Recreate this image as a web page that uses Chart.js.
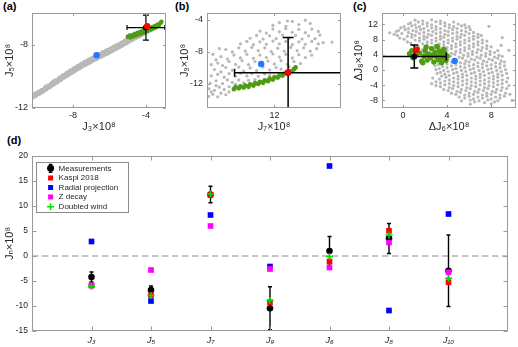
<!DOCTYPE html>
<html>
<head>
<meta charset="utf-8">
<script src="https://cdn.jsdelivr.net/npm/chart.js@4.4.1/dist/chart.umd.min.js"></script>
<style>
  html, body { margin: 0; padding: 0; background: #fff; }
  body { width: 518px; height: 347px; position: relative; overflow: hidden; font-family: 'Liberation Sans', Arial, sans-serif; }
  canvas { position: absolute; }
  .lbl { position: absolute; font-weight: bold; font-size: 11px; line-height: 11px; color: #000; }
</style>
</head>
<body>
<div class="lbl" style="left:3px;top:1px">(a)</div>
<div class="lbl" style="left:175px;top:1px">(b)</div>
<div class="lbl" style="left:353px;top:1px">(c)</div>
<div class="lbl" style="left:7px;top:135px">(d)</div>
<canvas id="ca" width="170" height="136" style="left:0;top:0"></canvas>
<canvas id="cb" width="170" height="136" style="left:175px;top:0"></canvas>
<canvas id="cc" width="169" height="136" style="left:349px;top:0"></canvas>
<canvas id="cd" width="518" height="207" style="left:0;top:140px"></canvas>
<script>
// ---- panel (a): J5 vs J3 ----
const aCloud = [
  [-10.25,-11.40],[-10.22,-11.25],[-10.15,-11.3],[-10.15,-11.15],
  [-10.05,-11.28],[-10.02,-11.12],[-10.08,-11.05],[-9.95,-11.18],[-9.95,-11.0],
  [-9.85,-11.15],[-9.88,-10.95],[-9.82,-11.02],[-9.75,-11.05],[-9.75,-10.85],
  [-9.65,-11.00],[-9.62,-10.80],[-9.68,-10.90],[-9.55,-10.9],[-9.55,-10.7],
  [-9.45,-10.85],[-9.48,-10.62],[-9.42,-10.72],[-9.35,-10.75],[-9.35,-10.55],
  [-9.25,-10.70],[-9.22,-10.45],[-9.28,-10.56],[-9.15,-10.6],[-9.15,-10.4],
  [-9.05,-10.55],[-9.08,-10.30],[-9.02,-10.42],[-8.95,-10.45],[-8.95,-10.22],
  [-8.85,-10.40],[-8.82,-10.15],[-8.88,-10.25],[-8.75,-10.3],[-8.75,-10.06],
  [-8.65,-10.24],[-8.62,-9.98],[-8.68,-10.10],[-8.55,-10.14],[-8.55,-9.9],
  [-8.45,-10.08],[-8.42,-9.84],[-8.48,-9.95],[-8.35,-10.0],[-8.35,-9.75],
  [-8.25,-9.94],[-8.22,-9.68],[-8.28,-9.80],[-8.15,-9.86],[-8.15,-9.6],
  [-8.05,-9.80],[-8.02,-9.54],[-8.08,-9.66],[-7.95,-9.72],[-7.95,-9.46],
  [-7.85,-9.66],[-7.82,-9.40],[-7.88,-9.52],[-7.75,-9.58],[-7.75,-9.32],
  [-7.65,-9.52],[-7.62,-9.26],[-7.68,-9.40],[-7.55,-9.44],[-7.55,-9.18],
  [-7.45,-9.38],[-7.42,-9.12],[-7.48,-9.25],[-7.35,-9.32],[-7.35,-9.05],
  [-7.25,-9.26],[-7.22,-9.00],[-7.28,-9.12],[-7.15,-9.2],[-7.15,-8.93],
  [-7.05,-9.14],[-7.02,-8.88],[-7.08,-9.00],[-6.95,-9.07],[-6.95,-8.81],
  [-6.85,-9.00],[-6.82,-8.75],[-6.88,-8.88],[-6.75,-8.95],[-6.75,-8.68],
  [-6.65,-8.90],[-6.62,-8.62],[-6.68,-8.76],[-6.55,-8.83],[-6.55,-8.56],
  [-6.45,-8.78],[-6.42,-8.50],[-6.48,-8.64],[-6.35,-8.71],[-6.35,-8.44],
  [-6.25,-8.66],[-6.22,-8.38],[-6.28,-8.52],[-6.15,-8.6],[-6.15,-8.33],
  [-6.05,-8.55],[-6.02,-8.27],[-6.08,-8.40],[-5.95,-8.48],[-5.95,-8.21],
  [-5.85,-8.43],[-5.82,-8.15],[-5.88,-8.28],[-5.75,-8.36],[-5.75,-8.09],
  [-5.65,-8.30],[-5.62,-8.03],[-5.68,-8.17],[-5.55,-8.24],[-5.55,-7.97],
  [-5.45,-8.18],[-5.42,-7.92],[-5.48,-8.05],[-5.35,-8.12],[-5.35,-7.85],
  [-5.25,-8.06],[-5.22,-7.78],[-5.28,-7.92],[-5.15,-7.98],[-5.15,-7.71],
  [-5.05,-7.92],[-5.02,-7.64],[-5.08,-7.78],[-4.95,-7.84],[-4.95,-7.57],
  [-4.85,-7.78],[-4.82,-7.50],[-4.88,-7.64],[-4.75,-7.72],[-4.75,-7.45],
  [-4.65,-7.66],[-4.62,-7.38],[-4.55,-7.6],[-4.45,-7.54],[-4.42,-7.26],[-4.35,-7.48],
  [-4.25,-7.42],[-4.22,-7.16],[-4.15,-7.36],[-4.05,-7.30],[-4.02,-7.06],[-3.95,-7.24],
  [-3.85,-7.18],[-3.82,-6.96],[-3.75,-7.12],[-3.65,-7.06],[-3.55,-7.0],[-3.45,-6.94]
];
const aGreen = [
  [-5.0,-7.5],[-4.9,-7.42],[-4.85,-7.55],[-4.75,-7.38],[-4.7,-7.48],[-4.6,-7.3],
  [-4.55,-7.42],[-4.45,-7.25],[-4.4,-7.35],[-4.3,-7.18],[-4.25,-7.3],[-4.15,-7.1],
  [-4.1,-7.22],[-3.95,-7.02],[-3.9,-7.12],[-3.8,-6.95],[-3.75,-7.05],[-3.65,-6.88],
  [-3.6,-6.98],[-3.5,-6.8],[-3.45,-6.9],[-3.35,-6.72],[-3.3,-6.8],[-3.2,-6.62],[-3.15,-6.55]
];
const aBlue = [-6.71, -8.67];
const aKaspi = [-3.93, -6.84];
const aMeas = [-4.0, -6.92];
const aErr = [1.04, 0.79];
const aXTicks = [-8, -4];
const aYTicks = [-12, -8];

// ---- panel (b): J9 vs J7 ----
const bCloud = [
  [9.97,-13.55],[10.1,-13.3],[10.25,-13.6],[10.35,-13.15],[10.5,-13.35],[10.05,-13.0],[10.6,-13.0],
  [9.98,-12.6],[10.15,-12.8],[10.3,-12.4],[10.45,-12.7],[10.6,-12.35],[10.2,-12.2],[10.8,-12.05],
  [10.02,-11.9],[10.2,-11.6],[10.4,-11.95],[10.55,-11.5],[10.7,-11.8],[10.9,-11.5],[11.05,-11.85],
  [11.2,-11.55],[11.4,-11.45],
  [10.05,-11.0],[10.25,-10.8],[10.45,-11.15],[10.6,-10.7],[10.8,-11.05],[10.95,-10.65],[11.15,-11.0],
  [11.3,-10.7],[11.5,-11.05],[11.7,-10.75],[11.85,-10.95],
  [10.15,-10.2],[10.35,-10.5],[10.5,-9.95],[10.7,-10.3],[10.9,-9.9],[11.05,-10.4],[11.25,-10.0],
  [11.45,-10.35],[11.65,-9.9],[11.85,-10.25],[12.05,-9.95],[12.2,-10.15],[12.45,-9.85],
  [10.25,-9.4],[10.4,-9.7],[10.6,-9.2],[10.8,-9.55],[11.0,-9.1],[11.2,-9.6],[11.4,-9.2],
  [11.6,-9.65],[11.8,-9.15],[12.0,-9.5],[12.2,-9.1],[12.4,-9.55],[12.6,-9.2],[12.8,-9.45],
  [10.35,-8.6],[10.55,-8.9],[10.75,-8.4],[10.95,-8.75],[11.15,-8.3],[11.35,-8.8],[11.55,-8.4],
  [11.75,-8.7],[11.95,-8.25],[12.15,-8.65],[12.35,-8.3],[12.55,-8.75],[12.75,-8.35],[12.95,-8.7],[13.15,-8.4],
  [10.5,-7.7],[10.7,-8.0],[10.9,-7.5],[11.1,-7.9],[11.3,-7.45],[11.5,-7.85],[11.7,-7.5],[11.9,-7.95],
  [12.1,-7.55],[12.3,-7.9],[12.5,-7.45],[12.7,-7.85],[12.9,-7.5],[13.1,-7.9],[13.3,-7.6],
  [10.95,-7.0],[11.15,-6.7],[11.35,-7.1],[11.55,-6.75],[11.75,-7.05],[11.95,-6.65],[12.15,-7.0],
  [12.35,-6.7],[12.55,-7.1],[12.75,-6.75],[12.95,-7.05],[13.15,-6.7],[13.35,-7.0],[13.5,-6.85],[13.77,-6.78],
  [11.25,-6.3],[11.45,-5.95],[11.65,-6.4],[11.85,-6.0],[12.05,-6.35],[12.25,-5.9],[12.45,-6.3],
  [12.65,-5.95],[12.85,-6.4],[13.05,-6.0],[13.25,-6.35],[13.4,-5.9],
  [11.55,-5.4],[11.75,-5.65],[11.95,-5.15],[12.15,-5.5],[12.35,-5.1],[12.55,-5.55],[12.75,-5.2],
  [12.95,-5.6],[13.15,-5.15],[13.35,-5.45],
  [11.95,-4.7],[12.15,-4.35],[12.35,-4.8],[12.55,-4.2],[12.75,-4.6],[12.95,-4.05],[13.1,-4.45],[12.4,-4.15],
  [10.1,-8.3],[10.3,-7.6],[10.2,-9.0],[10.05,-9.6]
];
const bGreen = [
  [10.75,-12.65],[10.8,-12.4],[10.9,-12.55],[10.95,-12.3],[11.05,-12.45],[11.1,-12.2],[11.2,-12.35],
  [11.25,-12.05],[11.35,-12.2],[11.4,-11.9],[11.5,-12.0],[11.55,-11.75],[11.65,-11.85],[11.7,-11.55],
  [11.8,-11.65],[11.85,-11.35],[11.95,-11.45],[12.0,-11.15],[12.1,-11.2],[12.15,-10.95],[12.25,-10.95],
  [12.3,-10.7],[12.4,-10.7],[12.45,-10.45],[12.55,-10.4],[12.6,-10.15],[12.65,-9.95]
];
const bBlue = [11.59, -9.51];
const bKaspi = [12.41, -10.57];
const bMeas = [12.42, -10.6];
const bErr = [1.65, 4.4];
const bXTicks = [12];
const bYTicks = [-12, -8, -4];

// ---- panel (c): dJ8 vs dJ6 ----
const cCloud = [
  [1.1,13.1],[1.8,12.9],[2.6,13.2],[3.4,12.9],
  [0.7,12.4],[1.4,12.6],[2.2,12.4],[3.0,12.7],[3.8,12.4],[4.6,12.6],
  [0.5,12.1],[1.1,11.9],[1.8,12.1],[2.6,11.9],[3.4,12.2],[4.2,11.9],[5.0,12.1],[5.6,11.9],
  [0.1,11.4],[0.8,11.6],[1.5,11.4],[2.2,11.6],[3.0,11.4],[3.8,11.6],[4.6,11.4],[5.3,11.6],[6.0,11.4],
  [-0.2,11.1],[0.5,10.9],[1.2,11.1],[1.9,10.9],[2.6,11.1],[3.4,10.9],[4.2,11.1],[4.9,10.9],[5.7,11.1],
  [-0.4,10.4],[0.2,10.6],[0.9,10.4],[1.6,10.6],[2.3,10.4],[3.0,10.6],[3.8,10.4],[4.5,10.6],[5.3,10.4],[6.1,10.6],
  [-0.6,10.1],[0.5,9.9],[1.2,10.1],[1.9,9.9],[2.7,10.1],[3.4,9.9],[4.1,10.1],[4.9,9.9],[5.7,10.1],[6.4,9.9],
  [-0.8,9.4],[-0.1,9.6],[0.8,9.4],[1.5,9.6],[2.3,9.4],[3.0,9.6],[3.8,9.4],[4.5,9.6],[5.3,9.4],[6.0,9.6],[6.8,9.4],
  [-0.5,9.1],[0.4,8.9],[1.1,9.1],[1.9,8.9],[2.6,9.1],[3.4,8.9],[4.1,9.1],[4.9,8.9],[5.6,9.1],[6.4,8.9],[7.1,9.1],
  [-0.3,8.4],[0.8,8.6],[1.5,8.4],[2.2,8.6],[3.0,8.4],[3.7,8.6],[4.5,8.4],[5.2,8.6],[6.0,8.4],[6.8,8.6],
  [0.1,8.1],[1.1,7.9],[1.9,8.1],[2.6,7.9],[3.4,8.1],[4.1,7.9],[4.9,8.1],[5.6,7.9],[6.4,8.1],[7.2,7.9],
  [0.4,7.4],[1.5,7.6],[2.2,7.4],[3.0,7.6],[3.7,7.4],[4.5,7.6],[5.2,7.4],[6.0,7.6],[6.8,7.4],[7.6,7.6],
  [0.7,7.1],[1.8,6.9],[2.6,7.1],[3.3,6.9],[4.1,7.1],[4.8,6.9],[5.6,7.1],[6.4,6.9],[7.2,7.1],
  [1.0,6.4],[2.2,6.6],[2.9,6.4],[3.7,6.6],[4.4,6.4],[5.2,6.6],[6.0,6.4],[6.8,6.6],[7.6,6.4],[8.9,6.5],
  [1.4,6.1],[2.5,5.9],[3.3,6.1],[4.0,5.9],[4.8,6.1],[5.6,5.9],[6.4,6.1],[7.2,5.9],[8.0,6.1],
  [1.8,5.4],[2.9,5.6],[3.6,5.4],[4.4,5.6],[5.2,5.4],[6.0,5.6],[6.8,5.4],[7.6,5.6],
  [2.1,5.1],[3.2,4.9],[4.0,5.1],[4.8,4.9],[5.6,5.1],[6.3,4.9],[7.1,5.1],[7.9,4.9],[8.6,5.1],
  [2.5,4.4],[3.6,4.6],[4.4,4.4],[5.2,4.6],[5.9,4.4],[6.7,4.6],[7.5,4.4],[8.3,4.6],
  [2.8,4.1],[3.9,3.9],[4.7,4.1],[5.5,3.9],[6.3,4.1],[7.1,3.9],[7.9,4.1],[8.7,3.9],
  [3.2,3.4],[4.3,3.6],[5.1,3.4],[5.9,3.6],[6.7,3.4],[7.5,3.6],[8.3,3.4],[9.0,3.6],
  [3.5,3.1],[4.1,2.9],[5.4,3.1],[6.2,2.9],[7.0,3.1],[7.8,2.9],[8.6,3.1],
  [3.1,2.4],[3.9,2.6],[5.7,2.4],[6.5,2.6],[7.3,2.4],[8.1,2.6],[8.9,2.4],
  [2.8,2.1],[3.6,1.9],[4.4,2.1],[5.2,1.9],[6.0,2.1],[6.8,1.9],[7.6,2.1],[8.4,1.9],[9.2,2.1],
  [3.2,1.4],[4.0,1.6],[4.8,1.4],[5.6,1.6],[6.4,1.4],[7.2,1.6],[8.0,1.4],[8.8,1.6],
  [2.9,1.1],[3.6,0.9],[4.4,1.1],[5.2,0.9],[6.0,1.1],[6.8,0.9],[7.6,1.1],[8.4,0.9],[9.2,1.1],
  [3.3,0.4],[4.0,0.6],[4.8,0.4],[5.6,0.6],[6.4,0.4],[7.2,0.6],[8.0,0.4],[8.8,0.6],
  [3.0,0.1],[3.7,-0.1],[4.5,0.1],[5.3,-0.1],[6.1,0.1],[6.9,-0.1],[7.7,0.1],[8.5,-0.1],[9.3,0.1],
  [3.4,-0.6],[4.1,-0.4],[4.9,-0.6],[5.7,-0.4],[6.5,-0.6],[7.3,-0.4],[8.1,-0.6],[8.9,-0.4],
  [3.1,-0.9],[3.8,-1.1],[4.6,-0.9],[5.4,-1.1],[6.2,-0.9],[7.0,-1.1],[7.8,-0.9],[8.6,-1.1],[9.4,-0.9],
  [3.5,-1.6],[4.2,-1.4],[5.0,-1.6],[5.8,-1.4],[6.6,-1.6],[7.4,-1.4],[8.2,-1.6],[9.0,-1.4],
  [2.7,-2.1],[3.9,-1.9],[4.6,-2.1],[5.4,-1.9],[6.2,-2.1],[7.0,-1.9],[7.8,-2.1],[8.6,-1.9],[9.5,-2.1],
  [3.3,-2.4],[4.2,-2.6],[5.0,-2.4],[5.8,-2.6],[6.6,-2.4],[7.4,-2.6],[8.2,-2.4],[9.0,-2.6],
  [3.0,-3.1],[3.8,-2.9],[4.6,-3.1],[5.4,-2.9],[6.2,-3.1],[7.0,-2.9],[7.8,-3.1],[8.6,-2.9],[9.4,-3.1],
  [2.6,-3.6],[3.4,-3.4],[4.2,-3.6],[5.0,-3.4],[5.8,-3.6],[6.6,-3.4],[7.4,-3.6],[8.2,-3.4],[9.0,-3.6],
  [3.0,-4.1],[3.8,-3.9],[4.6,-4.1],[5.4,-3.9],[6.2,-4.1],[7.0,-3.9],[7.8,-4.1],[8.6,-3.9],[9.6,-4.1],
  [3.4,-4.4],[4.2,-4.6],[5.0,-4.4],[5.8,-4.6],[6.6,-4.4],[7.4,-4.6],[8.2,-4.4],[9.0,-4.6],
  [3.7,-5.1],[4.5,-4.9],[5.3,-5.1],[6.1,-4.9],[6.9,-5.1],[7.7,-4.9],[8.5,-5.1],[9.4,-4.9],
  [4.1,-5.4],[4.9,-5.6],[5.7,-5.4],[6.5,-5.6],[7.3,-5.4],[8.1,-5.6],[8.9,-5.4],
  [4.4,-6.1],[5.2,-5.9],[6.0,-6.1],[6.8,-5.9],[7.6,-6.1],[8.4,-5.9],[9.3,-6.1],
  [4.8,-6.4],[5.6,-6.6],[6.4,-6.4],[7.2,-6.6],[8.0,-6.4],[8.8,-6.6],[9.7,-6.4],
  [5.1,-7.1],[6.0,-6.9],[6.8,-7.1],[7.6,-6.9],[8.4,-7.1],[9.2,-6.9],
  [5.6,-7.4],[6.4,-7.6],[7.2,-7.4],[8.0,-7.6],[8.8,-7.4],
  [5.3,-8.1],[6.1,-7.9],[6.9,-8.1],[7.7,-7.9],[8.6,-8.1],[9.9,-8.0],
  [6.5,-8.4],[7.4,-8.6],[8.3,-8.4],[6.1,-9.0],[8.0,-8.9],
  [-1.2,9.8],[7.8,11.5],[9.0,8.5],[9.6,5.2]
];
const cGreen = [
  [0.6,4.3],[0.9,3.2],[1.3,5.5],[1.5,4.5],[1.7,2.3],[1.9,3.6],[2.0,5.0],[2.2,2.6],[2.3,4.2],
  [2.5,3.2],[2.6,5.6],[2.8,2.1],[2.9,4.6],[3.0,3.6],[3.1,6.2],[3.2,2.7],[3.3,5.0],[3.4,4.1],
  [3.5,1.9],[3.6,3.3],[3.7,5.5],[3.8,4.3],[3.9,2.5],[4.0,3.7],[2.1,6.0],[1.2,4.0],[2.7,3.9],
  [3.5,4.9],[0.8,5.1],[1.8,1.9]
];
const cBlue = [4.69, 2.4];
const cKaspi = [1.21, 5.33];
const cMeas = [1.03, 3.55];
const cErr = [2.9, 3.0];
const cXTicks = [0, 4, 8];
const cYTicks = [-8, -4, 0, 4, 8, 12];

// ---- panel (d): Jn per harmonic ----
const dCats = ['J₃', 'J₅', 'J₇', 'J₉', 'J₆', 'J₈', 'J₁₀'];
const dMeas = [-4.2, -6.8, 12.3, -10.45, 1.0, 3.5, -2.95];
const dMeasErr = [1.0, 0.8, 1.65, 4.3, 2.9, 3.0, 7.15];
const dKaspi = [-5.9, -7.8, 12.2, -9.25, -1.1, 5.05, -5.25];
const dRadial = [2.9, -9.0, 8.2, -2.1, 18.0, -10.9, 8.4];
const dZdecay = [-5.9, -2.8, 6.0, -2.6, -2.3, 2.7, -3.25];
const dDoubled = [-6.1, -7.9, 12.4, -8.9, -0.1, 4.2, -4.45];
const dYTicks = [-15, -10, -5, 0, 5, 10, 15, 20];

const TXT = '#262626';
const GRAY = '#b8b8b8';
const GREEN = '#4f9c12';
const BLUE = '#1f78ff';
const RED = '#ff0000';

Chart.defaults.font.family = "'Liberation Sans', 'DejaVu Sans', Arial, sans-serif";
Chart.defaults.color = TXT;
Chart.defaults.animation = false;
Chart.defaults.events = [];
Chart.defaults.plugins.legend.display = false;
Chart.defaults.plugins.tooltip.enabled = false;

const pts = list => list.map(p => ({ x: p[0], y: p[1] }));

function axis (o) {
  const ticks = { padding: o.pad, font: { size: o.fs, style: o.italic ? 'italic' : 'normal' }, color: TXT, maxRotation: 0, autoSkip: false };
  if (o.cb) ticks.callback = o.cb;
  return {
    type: 'linear',
    min: o.min,
    max: o.max,
    grid: { display: false, drawTicks: false },
    border: { display: false },
    afterBuildTicks: s => { s.ticks = o.ticks.map(v => ({ value: v })); },
    afterFit: s => { if (s.isHorizontal()) s.height = o.size; else s.width = o.size; },
    ticks,
    title: { display: !!o.title, text: o.title || '', font: { size: 11 }, color: TXT, padding: o.tpad || 0 }
  };
}

// axes box with inward ticks on all four sides (matlab style)
function boxTicks (len) {
  return {
    id: 'boxTicks',
    afterDraw (chart) {
      const { ctx, chartArea: a, scales: { x, y } } = chart;
      const L = Math.round(a.left) + 0.5, R = Math.round(a.right) - 0.5;
      const T = Math.round(a.top) + 0.5, B = Math.round(a.bottom) - 0.5;
      ctx.save();
      ctx.strokeStyle = '#9a9a9a';
      ctx.lineWidth = 1;
      ctx.beginPath();
      x.ticks.forEach(t => {
        const px = Math.round(x.getPixelForValue(t.value)) + 0.5;
        ctx.moveTo(px, B); ctx.lineTo(px, B - len);
        ctx.moveTo(px, T); ctx.lineTo(px, T + len);
      });
      y.ticks.forEach(t => {
        const py = Math.round(y.getPixelForValue(t.value)) + 0.5;
        ctx.moveTo(L, py); ctx.lineTo(L + len, py);
        ctx.moveTo(R, py); ctx.lineTo(R - len, py);
      });
      ctx.stroke();
      ctx.strokeRect(L, T, R - L, B - T);
      ctx.restore();
    }
  };
}

// error bars drawn right after the measurement dataset
function errorBars (o) {
  return {
    id: 'errorBars',
    afterDatasetDraw (chart, args) {
      if (args.index !== o.dataset) return;
      const { ctx, chartArea: a, scales: { x, y } } = chart;
      const data = chart.data.datasets[o.dataset].data;
      ctx.save();
      ctx.beginPath();
      ctx.rect(a.left, a.top, a.width, a.height);
      ctx.clip();
      ctx.strokeStyle = '#000';
      ctx.lineWidth = o.width;
      ctx.beginPath();
      data.forEach((p, i) => {
        const cx = x.getPixelForValue(p.x), cy = y.getPixelForValue(p.y);
        if (o.xErr) {
          const l = x.getPixelForValue(p.x - o.xErr[i]), r = x.getPixelForValue(p.x + o.xErr[i]);
          ctx.moveTo(l, cy); ctx.lineTo(r, cy);
          ctx.moveTo(l, cy - o.capX); ctx.lineTo(l, cy + o.capX);
          ctx.moveTo(r, cy - o.capX); ctx.lineTo(r, cy + o.capX);
        }
        if (o.yErr) {
          const t = y.getPixelForValue(p.y + o.yErr[i]), b = y.getPixelForValue(p.y - o.yErr[i]);
          ctx.moveTo(cx, t); ctx.lineTo(cx, b);
          ctx.moveTo(cx - o.capY, t); ctx.lineTo(cx + o.capY, t);
          ctx.moveTo(cx - o.capY, b); ctx.lineTo(cx + o.capY, b);
        }
      });
      ctx.stroke();
      ctx.restore();
    }
  };
}

function scatterPanel (id, p) {
  const dot = (data, color, r, order) => ({
    data, pointRadius: r, pointBackgroundColor: color, pointBorderWidth: 0, pointBorderColor: color, order
  });
  return new Chart(document.getElementById(id), {
    type: 'scatter',
    data: {
      datasets: [
        dot(pts(p.cloud), GRAY, p.grayR, 5),
        dot(pts(p.green), GREEN, p.greenR, 4),
        dot(pts([p.blue]), BLUE, 3.2, 3),
        dot(pts([p.meas]), '#000', 3, 2),
        dot(pts([p.kaspi]), RED, 3.2, 1)
      ]
    },
    options: {
      responsive: false,
      layout: { padding: { left: 0, top: 13, right: p.right, bottom: 0 }, autoPadding: false },
      scales: {
        x: axis({ min: p.x[0], max: p.x[1], ticks: p.xTicks, size: 28, pad: 2, fs: 9, title: p.xTitle, tpad: { top: 0, bottom: 2.4 } }),
        y: axis({ min: p.y[0], max: p.y[1], ticks: p.yTicks, size: p.yW, pad: 4, fs: 9, title: p.yTitle, tpad: { top: 3.4, bottom: 0 } })
      }
    },
    plugins: [
      boxTicks(2.5),
      errorBars({ dataset: 3, xErr: [p.err[0]], yErr: [p.err[1]], capX: p.cap[0], capY: p.cap[1], width: p.lw })
    ]
  });
}

scatterPanel('ca', {
  cloud: aCloud, green: aGreen, blue: aBlue, meas: aMeas, kaspi: aKaspi, err: aErr,
  grayR: 1.8, greenR: 2.2, cap: [2.5, 3], lw: 1.2, right: 4, yW: 32,
  x: [-10.25, -2.9], y: [-12, -6], xTicks: aXTicks, yTicks: aYTicks,
  xTitle: 'J₃×10⁸', yTitle: 'J₅×10⁸'
});
scatterPanel('cb', {
  cloud: bCloud, green: bGreen, blue: bBlue, meas: bMeas, kaspi: bKaspi, err: bErr,
  grayR: 1.6, greenR: 2.4, cap: [4, 5.5], lw: 1.5, right: 4, yW: 32,
  x: [9.92, 14.05], y: [-15, -3.15], xTicks: bXTicks, yTicks: bYTicks,
  xTitle: 'J₇×10⁸', yTitle: 'J₉×10⁸'
});
scatterPanel('cc', {
  cloud: cCloud, green: cGreen, blue: cBlue, meas: cMeas, kaspi: cKaspi, err: cErr,
  grayR: 1.6, greenR: 2.7, cap: [4, 4], lw: 1.5, right: 2, yW: 33,
  x: [-1.9, 10.25], y: [-10, 15], xTicks: cXTicks, yTicks: cYTicks,
  xTitle: 'ΔJ₆×10⁸', yTitle: 'ΔJ₈×10⁸'
});

// ---- panel (d) ----
const dX = dCats.map((c, i) => i + 1);
const dPts = vals => vals.map((v, i) => ({ x: dX[i], y: v }));
const square = (label, vals, color, order) => ({
  label, data: dPts(vals), pointStyle: 'rect', pointRadius: 4,
  pointBackgroundColor: color, pointBorderColor: color, pointBorderWidth: 0, order
});

const legendBox = {
  id: 'legendBox',
  afterLayout (chart) {
    const lg = chart.legend, a = chart.chartArea;
    lg.left = a.left + 13;
    lg.top = a.top + 6.7;
    lg.right = a.right;
    lg.bottom = a.bottom;
  },
  afterDraw (chart) {
    const lg = chart.legend, ctx = chart.ctx;
    const x0 = lg.left + 1.6, y0 = lg.top + 1.6;
    ctx.save();
    ctx.strokeStyle = '#8c8c8c';
    ctx.lineWidth = 1;
    ctx.strokeRect(Math.round(x0 - 11) + 0.5, Math.round(y0 - 2.6) + 0.5, 92, 50);
    // error bar through the measurement symbol
    const cx = x0 + 4, cy = y0 + 4;
    ctx.strokeStyle = '#000';
    ctx.lineWidth = 1.2;
    ctx.beginPath();
    ctx.moveTo(cx, cy - 4); ctx.lineTo(cx, cy + 4);
    ctx.moveTo(cx - 1.8, cy - 4); ctx.lineTo(cx + 1.8, cy - 4);
    ctx.moveTo(cx - 1.8, cy + 4); ctx.lineTo(cx + 1.8, cy + 4);
    ctx.stroke();
    ctx.restore();
  }
};

new Chart(document.getElementById('cd'), {
  type: 'scatter',
  data: {
    datasets: [
      { label: 'Measurements', data: dPts(dMeas), pointStyle: 'circle', pointRadius: 3.3,
        pointBackgroundColor: '#000', pointBorderColor: '#000', pointBorderWidth: 0, order: 5 },
      square('Kaspi 2018', dKaspi, '#ff0000', 4),
      square('Radial projection', dRadial, '#0000ff', 3),
      square('Z decay', dZdecay, '#ff00ff', 2),
      { label: 'Doubled wind', data: dPts(dDoubled), pointStyle: 'cross', pointRadius: 3.6,
        pointBackgroundColor: '#00e000', pointBorderColor: '#00e000', pointBorderWidth: 1.5, order: 1 },
      { label: '', data: [{ x: 0, y: 0 }, { x: 8, y: 0 }], showLine: true, pointRadius: 0,
        borderColor: '#c4c4c4', borderWidth: 1.8, borderDash: [6.5, 3.5], order: 10 }
    ]
  },
  options: {
    responsive: false,
    layout: { padding: { left: 0, top: 16, right: 10, bottom: 0 }, autoPadding: false },
    scales: {
      x: axis({ min: 0, max: 8, ticks: dX, size: 16, pad: 4, fs: 9, italic: true, cb: v => dCats[v - 1] }),
      y: axis({ min: -15, max: 20, ticks: dYTicks, size: 32, pad: 4, fs: 8.5, title: 'Jₙ×10⁸', tpad: { top: 3.4, bottom: 0 } })
    },
    plugins: {
      legend: {
        display: true,
        position: 'chartArea',
        align: 'start',
        labels: {
          usePointStyle: true,
          boxHeight: 5,
          padding: 1.6,
          color: TXT,
          font: { size: 8 },
          filter: item => item.datasetIndex < 5,
          sort: (a, b) => a.datasetIndex - b.datasetIndex
        }
      }
    }
  },
  plugins: [
    boxTicks(4),
    errorBars({ dataset: 0, yErr: dMeasErr, capY: 2, width: 1.4 }),
    legendBox
  ]
});
</script>
</body>
</html>
